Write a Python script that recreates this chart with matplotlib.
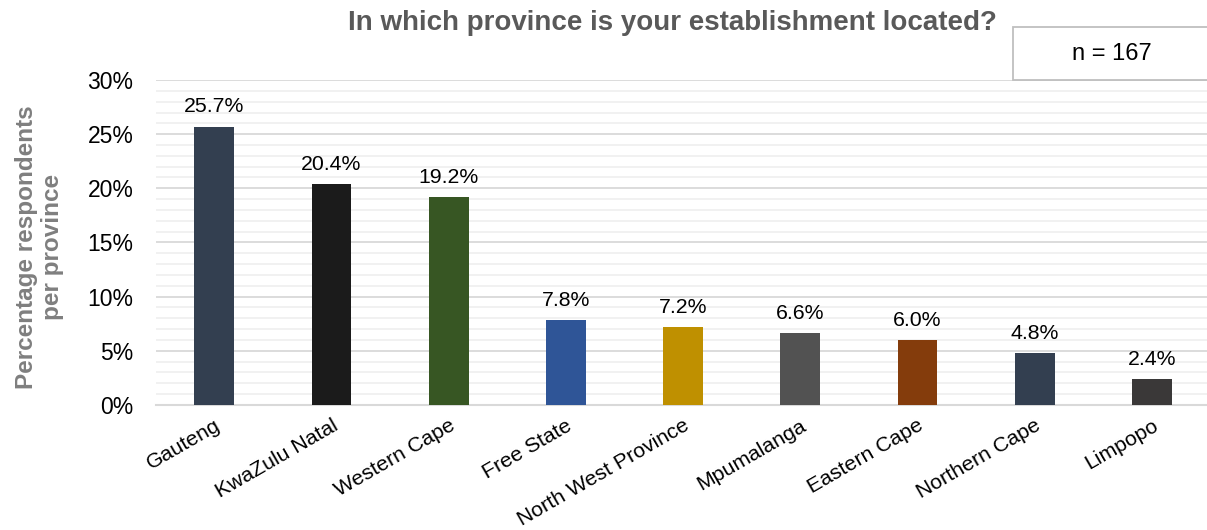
import matplotlib
matplotlib.use("Agg")
import matplotlib.pyplot as plt
from matplotlib.patches import Rectangle
from matplotlib.ticker import MultipleLocator, PercentFormatter

provinces = ["Gauteng", "KwaZulu Natal", "Western Cape", "Free State",
             "North West Province", "Mpumalanga", "Eastern Cape",
             "Northern Cape", "Limpopo"]
shares = [25.7, 20.4, 19.2, 7.8, 7.2, 6.6, 6.0, 4.8, 2.4]
bar_colors = ["#333F50", "#1B1B1B", "#375623", "#2F5597", "#BF9000",
              "#525252", "#843C0C", "#333F50", "#3A3838"]
sample_note = "n = 167"
title_text = "In which province is your establishment located?"
ylabel_text = "Percentage respondents\nper province"

plt.rcParams["font.family"] = ["Liberation Sans", "DejaVu Sans"]

fig = plt.figure(figsize=(12.07, 5.30), dpi=100)
ax = fig.add_axes([0.129, 0.236, 0.871, 0.613])

x = list(range(len(provinces)))
ax.bar(x, shares, width=0.34, color=bar_colors, zorder=3)

for xi, v in zip(x, shares):
    ax.text(xi, v + 0.95, f"{v:.1f}%", ha="center", va="bottom",
            fontsize=15.3, color="#000000", zorder=4)

ax.set_xlim(-0.5, 8.47)
ax.set_ylim(0, 30)
ax.yaxis.set_major_locator(MultipleLocator(5))
ax.yaxis.set_minor_locator(MultipleLocator(1))
ax.yaxis.set_major_formatter(PercentFormatter(decimals=0))
ax.grid(axis="y", which="major", color="#D9D9D9", linewidth=1.3, zorder=0)
ax.grid(axis="y", which="minor", color="#F0F0F0", linewidth=1.3, zorder=0)

for side in ["top", "right", "left"]:
    ax.spines[side].set_visible(False)
ax.spines["bottom"].set_color("#D9D9D9")
ax.spines["bottom"].set_linewidth(1.5)

ax.tick_params(axis="both", which="both", length=0)
ax.tick_params(axis="y", labelsize=16.5, labelcolor="#000000", pad=16)
ax.set_xticks(x)
ax.set_xticklabels(provinces, rotation=30, ha="right", rotation_mode="anchor",
                   fontsize=15.3)
ax.tick_params(axis="x", pad=8)

fig.text(0.557, 0.957, title_text, ha="center", va="center",
         fontsize=20, fontweight="bold", color="#595959")

fig.text(0.033, 0.534, ylabel_text, ha="center", va="center",
         rotation=90, fontsize=17.5, fontweight="bold", color="#7F7F7F",
         linespacing=1.15)

fig.patches.append(Rectangle((1013 / 1207, 1 - 80 / 530), 0.2, 53 / 530,
                             transform=fig.transFigure, facecolor="white",
                             edgecolor="#BFBFBF", linewidth=1.3))
fig.text(1112 / 1207, 1 - 54 / 530, sample_note, ha="center", va="center",
         fontsize=17, color="#000000")

fig.savefig("out.png", dpi=100)
